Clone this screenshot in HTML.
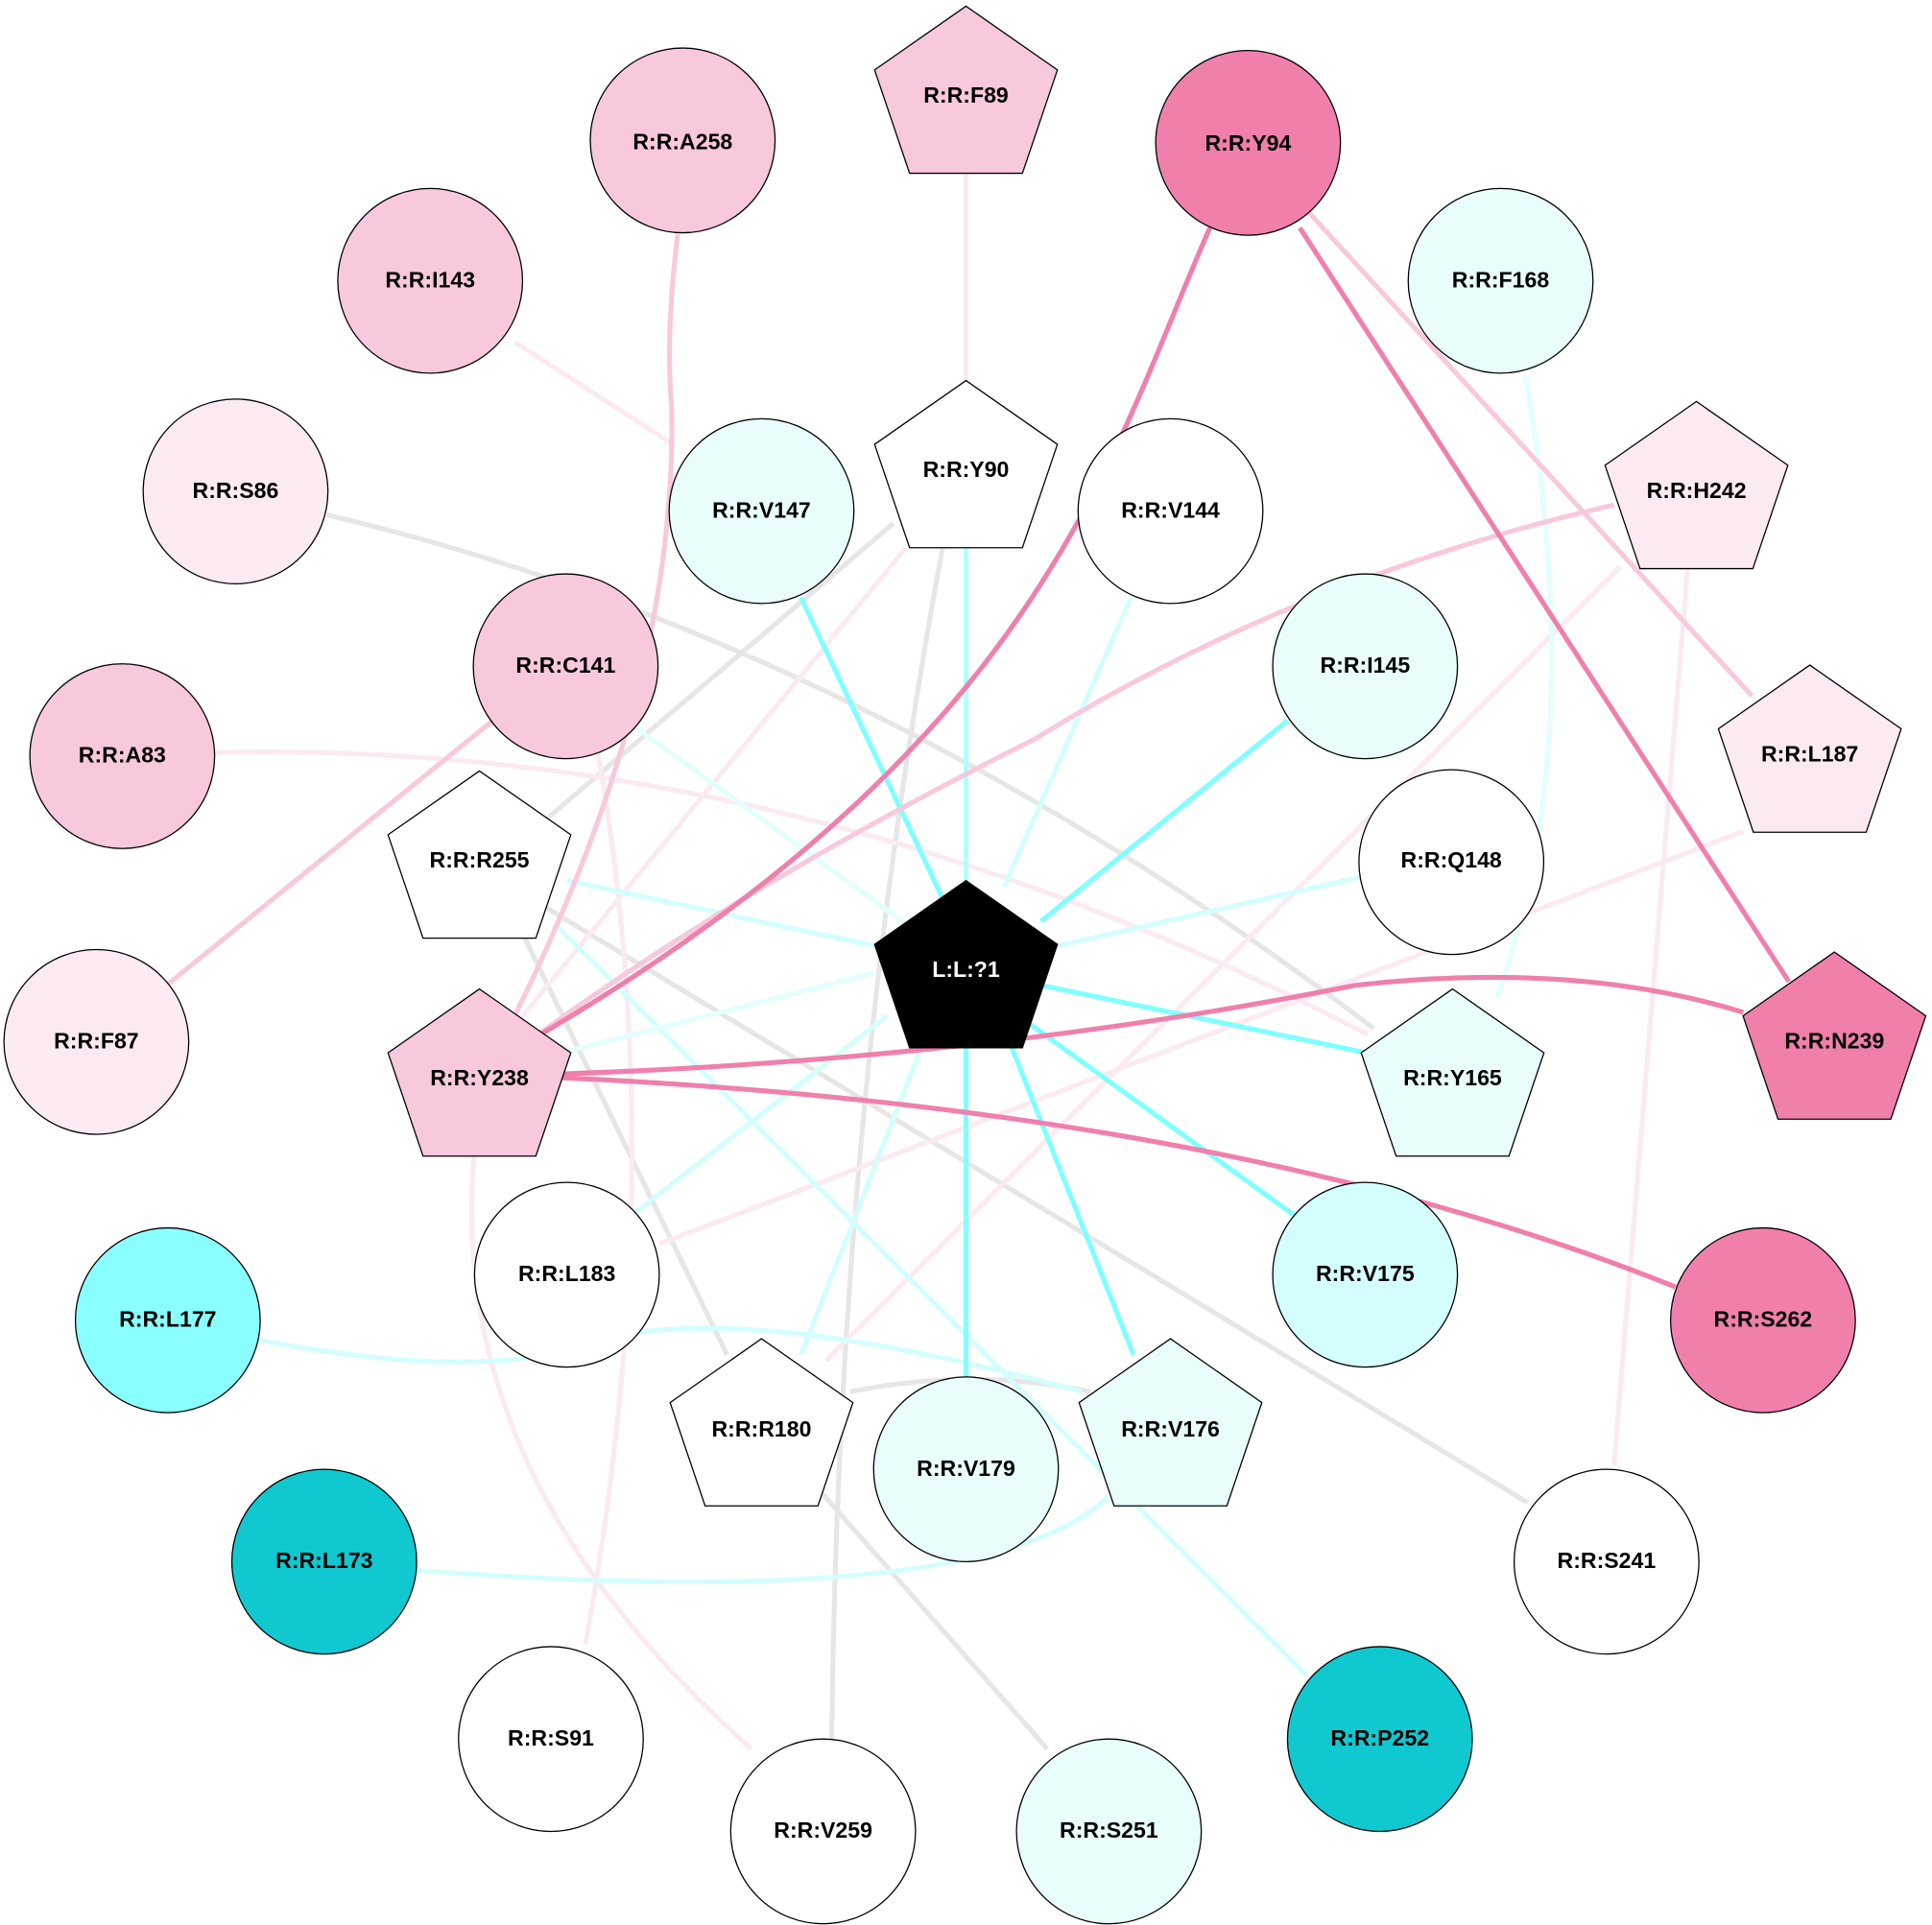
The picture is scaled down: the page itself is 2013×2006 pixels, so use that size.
<!DOCTYPE html>
<html><head><meta charset="utf-8"><style>
html,body{margin:0;padding:0;background:#fff;}
svg{display:block;}
text{font-family:"Liberation Sans",Arial,sans-serif;font-weight:bold;font-size:18px;text-anchor:middle;dominant-baseline:central;}
</style></head><body>
<svg width="2013" height="2006" viewBox="0 0 1568 1563" xmlns="http://www.w3.org/2000/svg">
<defs>
<polygon id="pg" points="0,-75 74.2,-23.2 45.8,60.7 -45.8,60.7 -74.2,-23.2" stroke="#000" stroke-width="1"/>
</defs>
<g fill="none" stroke-width="4">
<path d="M265,418 Q700,520 1115,835" stroke="#e6e6e6"/>
<path d="M725,425 L440,668" stroke="#e6e6e6"/>
<path d="M765,445 Q680,900 675,1415" stroke="#e6e6e6"/>
<path d="M425,760 L590,1100" stroke="#e6e6e6"/>
<path d="M440,735 L1240,1220" stroke="#e6e6e6"/>
<path d="M690,1130 Q790,1110 885,1130" stroke="#e6e6e6"/>
<path d="M665,1210 L850,1420" stroke="#e6e6e6"/>
<path d="M784,140 L784,310" stroke="#fbeaf2"/>
<path d="M735,445 L420,830" stroke="#fbeaf2"/>
<path d="M1315,460 L670,1105" stroke="#fbeaf2"/>
<path d="M1370,460 L1310,1190" stroke="#fbeaf2"/>
<path d="M485,610 Q545,950 475,1335" stroke="#fbeaf2"/>
<path d="M174,611 Q650,600 1110,840" stroke="#fbeaf2"/>
<path d="M1415,675 L535,1010" stroke="#fbeaf2"/>
<path d="M385,935 Q360,1200 610,1420" stroke="#fbeaf2"/>
<path d="M418,278 L545,360" stroke="#fbeaf2"/>
<path d="M1238,305 Q1290,600 1215,810" stroke="#e3fefe"/>
<path d="M515,590 L735,750" stroke="#e3fefe"/>
<path d="M918,485 L815,720" stroke="#d4fefe"/>
<path d="M460,715 L710,768" stroke="#d4fefe"/>
<path d="M450,750 L1060,1360" stroke="#d4fefe"/>
<path d="M1105,712 L850,770" stroke="#d4fefe"/>
<path d="M455,855 L710,790" stroke="#e3fefe"/>
<path d="M720,825 L515,985" stroke="#d4fefe"/>
<path d="M750,845 L650,1100" stroke="#d4fefe"/>
<path d="M210,1088 Q400,1125 500,1085 Q620,1060 878,1130" stroke="#d4fefe"/>
<path d="M338,1275 Q800,1310 900,1215" stroke="#d4fefe"/>
<path d="M784,445 L784,715" stroke="#b0ffff"/>
<path d="M650,485 L770,740" stroke="#80ffff"/>
<path d="M1045,585 L845,748" stroke="#80ffff"/>
<path d="M845,800 L1110,855" stroke="#80ffff"/>
<path d="M820,820 L1055,990" stroke="#80ffff"/>
<path d="M815,835 L920,1100" stroke="#80ffff"/>
<path d="M784,845 L784,1118" stroke="#80ffff"/>
<path d="M550,190 Q540,270 545,330 Q550,560 415,830" stroke="#f8c8dc"/>
<path d="M1060,170 L1422,565" stroke="#f8c8dc"/>
<path d="M1310,410 Q1050,470 840,600 Q600,720 430,845" stroke="#f8c8dc"/>
<path d="M400,585 L135,800" stroke="#f8c8dc"/>
<path d="M982,185 C900,370 850,600 430,845" stroke="#f07fac"/>
<path d="M1055,185 L1452,797" stroke="#f07fac"/>
<path d="M455,872 Q800,860 1100,800 Q1280,780 1415,822" stroke="#f07fac"/>
<path d="M455,875 Q1000,900 1360,1045" stroke="#f07fac"/>
</g>
<g stroke="#000" stroke-width="1">
<circle cx="554" cy="114" r="75" fill="#f8c8dc"/>
<circle cx="1013" cy="116" r="75" fill="#f07fac"/>
<circle cx="349" cy="228" r="75" fill="#f8c8dc"/>
<circle cx="1218" cy="228" r="75" fill="#e8fdfc"/>
<circle cx="191" cy="399" r="75" fill="#fbeaf2"/>
<circle cx="618" cy="415" r="75" fill="#e8fdfc"/>
<circle cx="950" cy="415" r="75" fill="#fff"/>
<circle cx="459" cy="541" r="75" fill="#f8c8dc"/>
<circle cx="1108" cy="541" r="75" fill="#e8fdfc"/>
<circle cx="99" cy="614" r="75" fill="#f8c8dc"/>
<circle cx="1178" cy="700" r="75" fill="#fff"/>
<circle cx="78" cy="846" r="75" fill="#fbeaf2"/>
<circle cx="460" cy="1035" r="75" fill="#fff"/>
<circle cx="1108" cy="1035" r="75" fill="#d4fefe"/>
<circle cx="136" cy="1072" r="75" fill="#8affff"/>
<circle cx="1431" cy="1072" r="75" fill="#f07fac"/>
<circle cx="784" cy="1193" r="75" fill="#e8fdfc"/>
<circle cx="263" cy="1268" r="75" fill="#10c8d0"/>
<circle cx="1304" cy="1268" r="75" fill="#fff"/>
<circle cx="447" cy="1412" r="75" fill="#fff"/>
<circle cx="1120" cy="1412" r="75" fill="#10c8d0"/>
<circle cx="668" cy="1487" r="75" fill="#fff"/>
<circle cx="900" cy="1487" r="75" fill="#e8fdfc"/>
</g>
<use href="#pg" transform="translate(784,80)" fill="#f8c8dc"/>
<use href="#pg" transform="translate(784,384)" fill="#fff"/>
<use href="#pg" transform="translate(1377,401)" fill="#fbeaf2"/>
<use href="#pg" transform="translate(1469,615)" fill="#fbeaf2"/>
<use href="#pg" transform="translate(389,701)" fill="#fff"/>
<use href="#pg" transform="translate(784,790)" fill="#000"/>
<use href="#pg" transform="translate(389,878)" fill="#f8c8dc"/>
<use href="#pg" transform="translate(1179,878)" fill="#e8fdfc"/>
<use href="#pg" transform="translate(1489,848)" fill="#f07fac"/>
<use href="#pg" transform="translate(618,1162)" fill="#fff"/>
<use href="#pg" transform="translate(950,1162)" fill="#e8fdfc"/>
<g fill="#000">
<text x="784" y="77">R:R:F89</text>
<text x="554" y="115">R:R:A258</text>
<text x="1013" y="116">R:R:Y94</text>
<text x="349" y="227">R:R:I143</text>
<text x="1218" y="227">R:R:F168</text>
<text x="191" y="398">R:R:S86</text>
<text x="784" y="381">R:R:Y90</text>
<text x="618" y="414">R:R:V147</text>
<text x="950" y="414">R:R:V144</text>
<text x="1377" y="398">R:R:H242</text>
<text x="459" y="540">R:R:C141</text>
<text x="1108" y="540">R:R:I145</text>
<text x="99" y="613">R:R:A83</text>
<text x="1469" y="612">R:R:L187</text>
<text x="389" y="698">R:R:R255</text>
<text x="1178" y="698">R:R:Q148</text>
<text x="784" y="787" fill="#fff">L:L:?1</text>
<text x="78" y="845">R:R:F87</text>
<text x="389" y="875">R:R:Y238</text>
<text x="1179" y="875">R:R:Y165</text>
<text x="1489" y="845">R:R:N239</text>
<text x="460" y="1034">R:R:L183</text>
<text x="1108" y="1034">R:R:V175</text>
<text x="136" y="1071">R:R:L177</text>
<text x="1431" y="1071">R:R:S262</text>
<text x="618" y="1160">R:R:R180</text>
<text x="950" y="1160">R:R:V176</text>
<text x="784" y="1192">R:R:V179</text>
<text x="263" y="1267">R:R:L173</text>
<text x="1304" y="1267">R:R:S241</text>
<text x="447" y="1411">R:R:S91</text>
<text x="1120" y="1411">R:R:P252</text>
<text x="668" y="1486">R:R:V259</text>
<text x="900" y="1486">R:R:S251</text>
</g>
</svg>
</body></html>
